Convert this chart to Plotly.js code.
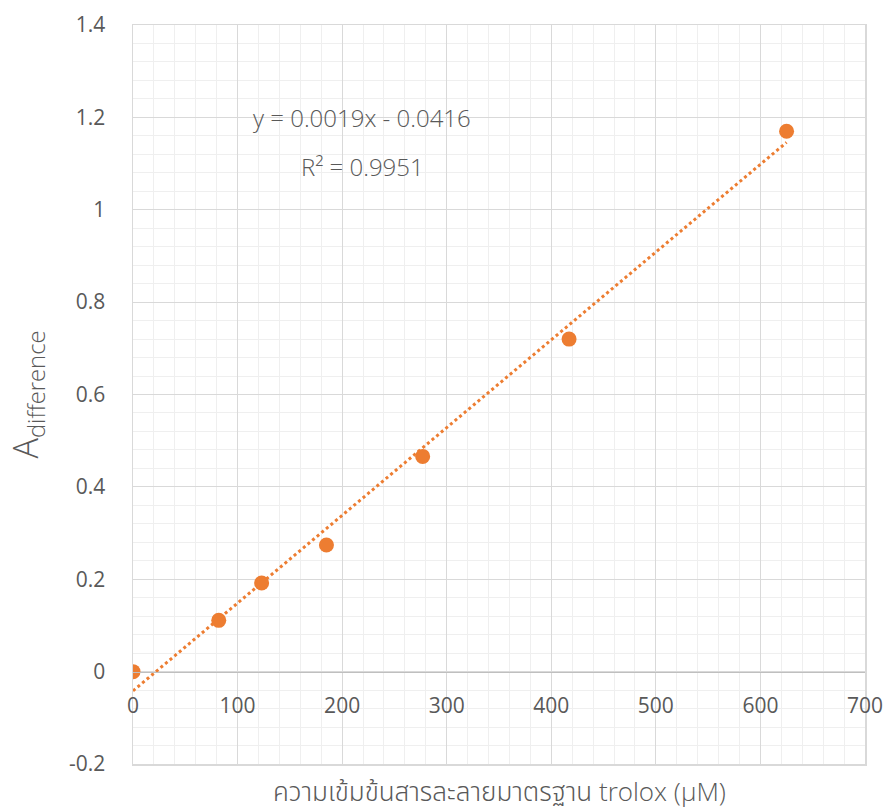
<!DOCTYPE html>
<html>
<head>
<meta charset="utf-8">
<script src="https://cdn.plot.ly/plotly-3.0.1.min.js"></script>
<style>html,body{margin:0;padding:0;background:#fff;}</style>
</head>
<body>
<div id="chart" style="width:886px;height:810px;"></div>
<script>
const concentration = [0, 82, 123, 185, 277, 417, 625];
const absorbance = [0, 0.111, 0.192, 0.274, 0.466, 0.72, 1.17];
const slope = 0.0019;
const intercept = -0.0416;
const trendX = [0, 625];
const trendY = trendX.map(x => slope * x + intercept);
const xTicks = [0, 100, 200, 300, 400, 500, 600, 700];
const yTicks = [-0.2, 0, 0.2, 0.4, 0.6, 0.8, 1, 1.2, 1.4];
const yTickText = ['-0.2', '0', '0.2', '0.4', '0.6', '0.8', '1', '1.2', '1.4'];
const equationText = 'y = 0.0019x - 0.0416';
const r2Text = 'R² = 0.9951';
const xTitle = 'ความเข้มข้นสารละลายมาตรฐาน trolox (μM)';
const yTitle = 'A<sub>difference</sub>';

const orange = '#ED7D31';
const fontFam = '"Open Sans", "Noto Sans", "Noto Sans Thai", "DejaVu Sans", sans-serif';
const txt = '#595959';

const traces = [
  {x: trendX, y: trendY, mode: 'lines', type: 'scatter',
   line: {color: orange, width: 3, dash: 'dot'}, hoverinfo: 'skip', showlegend: false},
  {x: concentration, y: absorbance, mode: 'markers', type: 'scatter',
   marker: {color: orange, size: 15}, showlegend: false},
  {x: [0], y: [null], xaxis: 'x2', yaxis: 'y', mode: 'markers', showlegend: false, hoverinfo: 'skip'}
];

const layout = {
  width: 886, height: 810,
  margin: {l: 133, r: 21, t: 25, b: 46},
  paper_bgcolor: '#fff', plot_bgcolor: '#fff',
  font: {family: fontFam, color: txt, size: 20},
  xaxis: {
    range: [0, 700], tickvals: xTicks, ticktext: xTicks.map(String),
    anchor: 'free', position: 0.125,
    showgrid: true, gridcolor: '#d9d9d9', gridwidth: 1,
    minor: {dtick: 20, showgrid: true, gridcolor: '#efefef', gridwidth: 1},
    showline: true, linecolor: '#bfbfbf', linewidth: 1.5,
    zeroline: false,
    ticks: 'outside', ticklen: 15, tickcolor: 'rgba(0,0,0,0)',
    tickfont: {size: 21, color: txt}
  },
  xaxis2: {
    range: [0, 700], overlaying: 'x', anchor: 'y', side: 'bottom',
    showgrid: false, showticklabels: false, ticks: '',
    showline: true, linecolor: '#d9d9d9', linewidth: 1.5, mirror: true, zeroline: false
  },
  yaxis: {
    range: [-0.2, 1.4], tickvals: yTicks, ticktext: yTickText,
    showgrid: true, gridcolor: '#d9d9d9', gridwidth: 1,
    minor: {dtick: 0.04, showgrid: true, gridcolor: '#efefef', gridwidth: 1},
    showline: true, linecolor: '#d9d9d9', linewidth: 1.5, mirror: true,
    zeroline: false,
    ticks: 'outside', ticklen: 22, tickcolor: 'rgba(0,0,0,0)',
    tickfont: {size: 21, color: txt},
    title: {text: yTitle, font: {size: 34, color: txt, weight: 300}, standoff: 20}
  },
  annotations: [
    {x: 219, y: 1.2, xref: 'x', yref: 'y', text: equationText, showarrow: false,
     font: {size: 24, color: txt, weight: 300}},
    {x: 219, y: 1.093, xref: 'x', yref: 'y', text: r2Text, showarrow: false,
     font: {size: 24, color: txt, weight: 300}},
    {x: 0.5, y: 0, xref: 'paper', yref: 'paper', yshift: -27, text: xTitle, showarrow: false,
     xanchor: 'center', yanchor: 'middle', font: {size: 26, color: txt, weight: 300}}
  ]
};

Plotly.newPlot('chart', traces, layout, {displayModeBar: false, staticPlot: true});
</script>
</body>
</html>
